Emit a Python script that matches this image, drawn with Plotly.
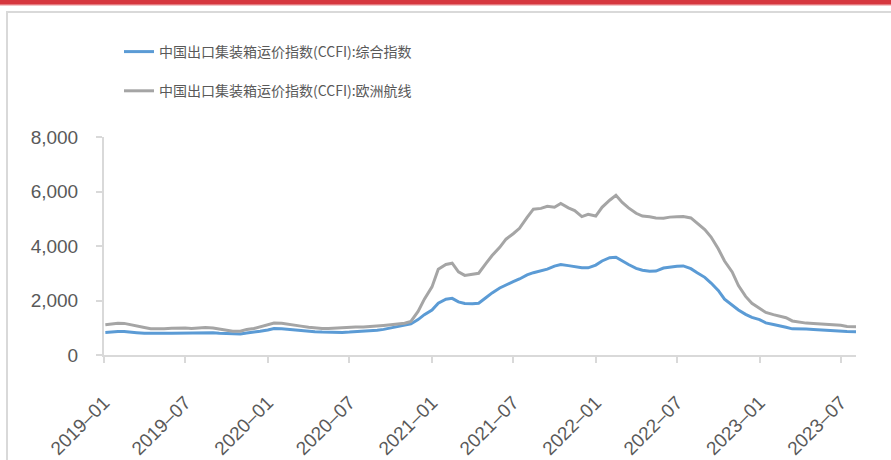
import plotly.graph_objects as go

# ---- data ----
dates = [
    "2019-01-04", "2019-01-15", "2019-02-01", "2019-02-15", "2019-03-01", "2019-03-15",
    "2019-04-01", "2019-04-15", "2019-05-01", "2019-05-15", "2019-06-01", "2019-06-15",
    "2019-07-01", "2019-07-15", "2019-08-01", "2019-08-15", "2019-09-01", "2019-09-15",
    "2019-10-01", "2019-10-15", "2019-11-01", "2019-11-15", "2019-12-01", "2019-12-15",
    "2020-01-01", "2020-01-15", "2020-02-01", "2020-02-15", "2020-03-01", "2020-03-15",
    "2020-04-01", "2020-04-15", "2020-05-01", "2020-05-15", "2020-06-01", "2020-06-15",
    "2020-07-01", "2020-07-15", "2020-08-01", "2020-08-15", "2020-09-01", "2020-09-15",
    "2020-10-01", "2020-10-15", "2020-11-01", "2020-11-15", "2020-12-01", "2020-12-15",
    "2021-01-01", "2021-01-15", "2021-02-01", "2021-02-15", "2021-03-01", "2021-03-15",
    "2021-04-01", "2021-04-15", "2021-05-01", "2021-05-15", "2021-06-01", "2021-06-15",
    "2021-07-01", "2021-07-15", "2021-08-01", "2021-08-15", "2021-09-01", "2021-09-15",
    "2021-10-01", "2021-10-15", "2021-11-01", "2021-11-15", "2021-12-01", "2021-12-15",
    "2022-01-01", "2022-01-15", "2022-02-01", "2022-02-15", "2022-03-01", "2022-03-15",
    "2022-04-01", "2022-04-15", "2022-05-01", "2022-05-15", "2022-06-01", "2022-06-15",
    "2022-07-01", "2022-07-15", "2022-08-01", "2022-08-15", "2022-09-01", "2022-09-15",
    "2022-10-01", "2022-10-15", "2022-11-01", "2022-11-15", "2022-12-01", "2022-12-15",
    "2023-01-01", "2023-01-15", "2023-02-01", "2023-02-15", "2023-03-01", "2023-03-15",
    "2023-04-01", "2023-04-15", "2023-05-01", "2023-05-15", "2023-06-01", "2023-06-15",
    "2023-07-01", "2023-07-15", "2023-08-04",
]

ccfi_composite = [
    830, 845, 860, 860, 850, 820,
    800, 790, 790, 795, 800, 805,
    810, 815, 820, 820, 815, 800,
    785, 770, 775, 810, 830, 870,
    920, 975, 965, 940, 915, 900,
    880, 855, 840, 830, 825, 830,
    840, 850, 860, 875, 905, 940,
    990, 1030, 1080, 1140, 1300, 1480,
    1650, 1900, 2050, 2080, 1950, 1890,
    1880, 1900, 2100, 2280, 2460, 2580,
    2690, 2790, 2940, 3020, 3100, 3150,
    3260, 3320, 3280, 3240, 3200, 3200,
    3300, 3450, 3570, 3590, 3440, 3320,
    3180, 3110, 3070, 3080, 3190, 3230,
    3260, 3270, 3170, 3020, 2850, 2640,
    2370, 2050, 1830, 1650, 1490, 1380,
    1300, 1180, 1120, 1080, 1020, 960,
    940, 950, 940, 920, 905, 890,
    880, 860, 855,
]

ccfi_europe = [
    1110, 1140, 1165, 1160, 1120, 1060,
    1010, 960, 950, 965, 985, 1000,
    990, 975, 990, 1010, 990, 950,
    905, 870, 875, 940, 970, 1030,
    1090, 1175, 1165, 1140, 1100, 1060,
    1020, 990, 975, 970, 990, 1010,
    1020, 1025, 1030, 1040, 1060, 1085,
    1110, 1130, 1165, 1230, 1600, 2050,
    2500, 3150, 3320, 3370, 3050, 2920,
    2960, 3000, 3350, 3650, 3950, 4250,
    4450, 4650, 5050, 5350, 5380, 5460,
    5420, 5560, 5400, 5300, 5080, 5160,
    5100, 5420, 5680, 5860, 5600, 5400,
    5200, 5100, 5070, 5030, 5020, 5060,
    5070, 5080, 5030, 4850, 4600, 4330,
    3900, 3450, 3050, 2550, 2150, 1900,
    1720, 1560, 1480, 1420, 1370, 1250,
    1200, 1170, 1160, 1150, 1130, 1110,
    1090, 1050, 1040,
]

series_names = ["中国出口集装箱运价指数(CCFI):综合指数", "中国出口集装箱运价指数(CCFI):欧洲航线"]

x_tick_vals = ["2019-01-01", "2019-07-01", "2020-01-01", "2020-07-01", "2021-01-01",
               "2021-07-01", "2022-01-01", "2022-07-01", "2023-01-01", "2023-07-01"]
x_tick_text = ["2019–01", "2019–07", "2020–01", "2020–07", "2021–01",
               "2021–07", "2022–01", "2022–07", "2023–01", "2023–07"]
y_tick_vals = [0, 2000, 4000, 6000, 8000]

# ---- layout geometry ----
W, H = 891, 460
ML, MR, MT, MB = 104, 35, 137, 105
PW, PH = W - ML - MR, H - MT - MB


def px_x(x):
    return (x - ML) / PW


def px_y(y):
    return (H - MB - y) / PH


fig = go.Figure()
fig.add_trace(go.Scatter(x=dates, y=ccfi_composite, mode="lines", name=series_names[0],
                         line=dict(color="#5b9bd5", width=3), legendgroup="a"))
fig.add_trace(go.Scatter(x=dates, y=ccfi_europe, mode="lines", name=series_names[1],
                         line=dict(color="#a5a5a5", width=3), legendgroup="b"))

tick_font = dict(family="Liberation Sans, Arial, sans-serif", size=19, color="#595959")

fig.update_layout(
    template="none",
    width=W, height=H,
    margin=dict(l=ML, r=MR, t=MT, b=MB, autoexpand=False),
    paper_bgcolor="white", plot_bgcolor="white",
    showlegend=True,
    legend=dict(
        x=px_x(119), y=px_y(36), xanchor="left", yanchor="top",
        font=dict(family="Noto Sans CJK SC, sans-serif", size=14, color="#595959"),
        tracegroupgap=18, bgcolor="rgba(0,0,0,0)",
    ),
    xaxis=dict(
        type="date", range=["2019-01-01", "2023-08-04"], automargin=False,
        tickmode="array", tickvals=x_tick_vals, ticktext=x_tick_text,
        tickangle=-45, tickfont=tick_font,
        showgrid=False, zeroline=False,
        showline=True, linecolor="#d9d9d9", linewidth=2,
        ticks="outside", ticklen=6, tickwidth=2, tickcolor="#d9d9d9",
        ticklabelstandoff=21,
    ),
    yaxis=dict(
        range=[0, 8000], tickmode="array", tickvals=y_tick_vals, automargin=False,
        tickformat=",", tickfont=tick_font,
        showgrid=False, zeroline=False,
        showline=True, linecolor="#d9d9d9", linewidth=2,
        ticks="outside", ticklen=6, tickwidth=2, tickcolor="#d9d9d9",
        ticklabelstandoff=14,
    ),
    shapes=[
        # red band at the top
        dict(type="rect", xref="paper", yref="paper",
             x0=px_x(0), x1=px_x(W), y0=px_y(4.7), y1=px_y(0),
             fillcolor="#d6373e", line=dict(width=0), layer="below"),
        dict(type="line", xref="paper", yref="paper",
             x0=px_x(0), x1=px_x(W), y0=px_y(5.3), y1=px_y(5.3),
             line=dict(color="#f2b6b8", width=1)),
        # grey frame (top and left edges)
        dict(type="line", xref="paper", yref="paper",
             x0=px_x(6), x1=px_x(W), y0=px_y(12), y1=px_y(12),
             line=dict(color="#d9d9d9", width=2)),
        dict(type="line", xref="paper", yref="paper",
             x0=px_x(7), x1=px_x(7), y0=px_y(11), y1=px_y(H),
             line=dict(color="#d9d9d9", width=2)),
    ],
)

fig.write_html(
    "out.html",
    config={"displayModeBar": False},
    post_script="document.body.style.margin='0';document.body.style.padding='0';"
                "document.documentElement.style.margin='0';",
)
